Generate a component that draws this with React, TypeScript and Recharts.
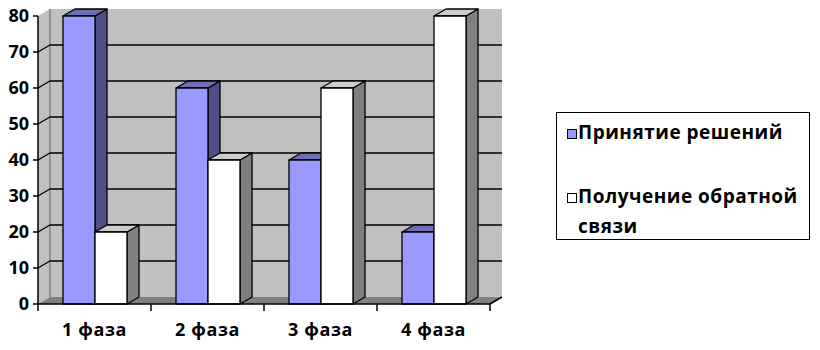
import React from 'react'
import { BarChart, Bar, XAxis, YAxis, CartesianGrid, Legend } from 'recharts'

const categories = ['1 фаза', '2 фаза', '3 фаза', '4 фаза']
const seriesNames = ['Принятие решений', 'Получение обратной связи']
const decisions = [80, 60, 40, 20]
const feedback = [20, 40, 60, 80]
const yTicks = [0, 10, 20, 30, 40, 50, 60, 70, 80]

const data = categories.map((phase, i) => ({
  phase,
  decisions: decisions[i],
  feedback: feedback[i],
}))

const W = 820
const H = 350
const Y_AXIS_W = 38
const X_AXIS_H = 46
const MARGIN = { top: 16, right: 330, bottom: 0, left: 0 }
const PLOT_L = MARGIN.left + Y_AXIS_W
const PLOT_T = MARGIN.top
const PLOT_W = W - PLOT_L - MARGIN.right
const PLOT_H = H - PLOT_T - X_AXIS_H - MARGIN.bottom
const PLOT_B = PLOT_T + PLOT_H
const DX = 12
const DY = 7
const BAND = PLOT_W / categories.length
const FONT = '"Open Sans", "Noto Sans", sans-serif'

// 3d-ish column: front, side, top
const prism = (sideFill: string, topFill: string) => (props: any) => {
  const { x, y, width, height, fill } = props
  if (!height) return null
  const r = x + width
  const b = y + height
  return (
    <g stroke="#000" strokeWidth={1.3} strokeLinejoin="round">
      <polygon points={`${r},${y} ${r + DX},${y - DY} ${r + DX},${b - DY} ${r},${b}`} fill={sideFill} />
      <polygon points={`${x},${y} ${x + DX},${y - DY} ${r + DX},${y - DY} ${r},${y}`} fill={topFill} />
      <rect x={x} y={y} width={width} height={height} fill={fill} />
    </g>
  )
}

// gridlines drawn on the back wall plus the slant across the left wall
const gridLine = (props: any) => {
  const { x1, y1, x2 } = props
  if (y1 <= PLOT_T + 0.5 || y1 >= PLOT_B - 0.5) return <g key={props.key} />
  return (
    <g key={props.key} stroke="#000" strokeWidth={1.3}>
      <line x1={x1} y1={y1} x2={x1 + DX} y2={y1 - DY} />
      <line x1={x1 + DX} y1={y1 - DY} x2={x2 + DX} y2={y1 - DY} />
    </g>
  )
}

const XTick = (props: any) => {
  const { x, payload, index } = props
  const left = x - BAND / 2
  return (
    <g>
      <line x1={left} y1={PLOT_B} x2={left} y2={PLOT_B + 7} stroke="#000" strokeWidth={1.5} />
      {index === categories.length - 1 && (
        <line x1={x + BAND / 2} y1={PLOT_B} x2={x + BAND / 2} y2={PLOT_B + 7} stroke="#000" strokeWidth={1.5} />
      )}
      <text
        x={x}
        y={PLOT_B + 32}
        textAnchor="middle"
        fontFamily={FONT}
        fontWeight={700}
        fontSize={18}
        letterSpacing={0.6}
        fill="#000"
      >
        {payload.value}
      </text>
    </g>
  )
}

const LegendBox = ({ payload }: any) => {
  const items = [...(payload || [])].sort(
    (a: any, b: any) => seriesNames.indexOf(a.value) - seriesNames.indexOf(b.value)
  )
  return (
    <div
      style={{
        width: 254,
        height: 128,
        boxSizing: 'border-box',
        border: '1px solid #000',
        position: 'relative',
        background: '#fff',
        fontFamily: FONT,
        fontWeight: 700,
        fontSize: 19,
        letterSpacing: 0.5,
        color: '#000',
        textAlign: 'left',
      }}
    >
      {items.map((entry: any, i: number) => (
        <div key={entry.value} style={{ position: 'absolute', left: 10, top: i === 0 ? 4 : 68, width: 236 }}>
          <span
            style={{
              position: 'absolute',
              left: 0,
              top: 12,
              width: 8,
              height: 8,
              border: '1px solid #000',
              background: entry.color,
            }}
          />
          <div style={{ marginLeft: 11, lineHeight: '30px' }}>{entry.value}</div>
        </div>
      ))}
    </div>
  )
}

export default function App() {
  return (
    <div style={{ position: 'absolute', left: 0, top: 0, width: W, height: H, background: '#fff' }}>
      <svg width={W} height={H} style={{ position: 'absolute', left: 0, top: 0 }}>
        <rect x={PLOT_L + DX} y={PLOT_T - DY} width={PLOT_W} height={PLOT_H} fill="#c0c0c0" />
        <polygon
          points={`${PLOT_L},${PLOT_T} ${PLOT_L + DX},${PLOT_T - DY} ${PLOT_L + DX},${PLOT_B - DY} ${PLOT_L},${PLOT_B}`}
          fill="#c0c0c0"
        />
        <line x1={PLOT_L + DX} y1={PLOT_T - DY} x2={PLOT_L + DX} y2={PLOT_B - DY} stroke="#808080" strokeWidth={1.5} />
        <polygon
          points={`${PLOT_L},${PLOT_B} ${PLOT_L + PLOT_W},${PLOT_B} ${PLOT_L + PLOT_W + DX},${PLOT_B - DY} ${PLOT_L + DX},${PLOT_B - DY}`}
          fill="#808080"
        />
        <line
          x1={PLOT_L + PLOT_W}
          y1={PLOT_B}
          x2={PLOT_L + PLOT_W + DX}
          y2={PLOT_B - DY}
          stroke="#000"
          strokeWidth={1.5}
        />
      </svg>
      <div style={{ position: 'absolute', left: 0, top: 0 }}>
        <BarChart width={W} height={H} data={data} margin={MARGIN} barCategoryGap={25} barGap={0}>
          <CartesianGrid vertical={false} horizontal={gridLine} />
          <XAxis
            dataKey="phase"
            height={X_AXIS_H}
            axisLine={{ stroke: '#000', strokeWidth: 1.5 }}
            tickLine={false}
            tick={<XTick />}
            interval={0}
          />
          <YAxis
            width={Y_AXIS_W}
            domain={[0, 80]}
            ticks={yTicks}
            interval={0}
            axisLine={{ stroke: '#000', strokeWidth: 1.5 }}
            tickLine={{ stroke: '#000', strokeWidth: 1.5 }}
            tickSize={5}
            tickMargin={4}
            tick={{ fill: '#000', fontFamily: FONT, fontWeight: 700, fontSize: 18 }}
          />
          <Legend
            layout="vertical"
            align="center"
            verticalAlign="middle"
            content={<LegendBox />}
            wrapperStyle={{ position: 'absolute', left: 556, top: 112, width: 254, height: 128 }}
          />
          <Bar
            dataKey="decisions"
            name={seriesNames[0]}
            fill="#9999ff"
            shape={prism('#4f4f88', '#6f6fb8')}
            isAnimationActive={false}
          />
          <Bar
            dataKey="feedback"
            name={seriesNames[1]}
            fill="#ffffff"
            shape={prism('#808080', '#cccccc')}
            isAnimationActive={false}
          />
        </BarChart>
      </div>
    </div>
  )
}
